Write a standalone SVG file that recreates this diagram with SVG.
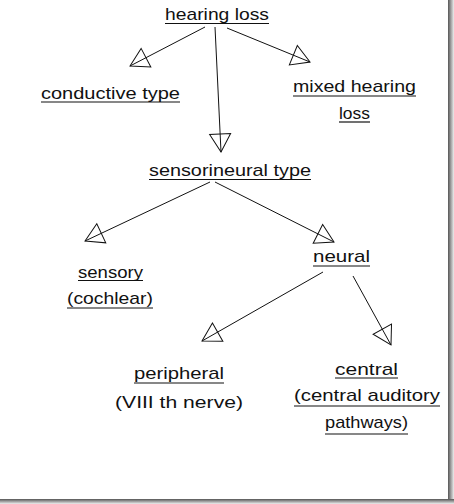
<svg xmlns="http://www.w3.org/2000/svg" width="454" height="504" viewBox="0 0 454 504">
<defs>
<style>
.t{font-family:"Liberation Sans","DejaVu Sans",sans-serif;font-size:17px;fill:#111}
.u{stroke:#111;stroke-width:1.2}
.c{stroke:#111;stroke-width:1;fill:none}
</style>
<marker id="ah" viewBox="-20 -12 22 24" refX="0" refY="0" markerWidth="22" markerHeight="24" markerUnits="userSpaceOnUse" orient="auto">
<path d="M0,0 L-18,-10.5 L-18,10.5 Z" fill="none" stroke="#111" stroke-width="1"/>
</marker>
<linearGradient id="sr" x1="0" y1="0" x2="1" y2="0"><stop offset="0" stop-color="#555"/><stop offset="1" stop-color="#eee"/></linearGradient>
<linearGradient id="sb" x1="0" y1="0" x2="0" y2="1"><stop offset="0" stop-color="#555"/><stop offset="1" stop-color="#eee"/></linearGradient>
</defs>
<rect width="454" height="504" fill="#fff"/>
<rect x="448" y="0" width="6" height="504" fill="url(#sr)"/>
<rect x="0" y="499" width="454" height="5" fill="url(#sb)"/>

<g id="connectors">
<line class="c" x1="205" y1="27" x2="130" y2="66" marker-end="url(#ah)"/>
<line class="c" x1="227" y1="28" x2="310" y2="62" marker-end="url(#ah)"/>
<line class="c" x1="215" y1="27" x2="221" y2="152" marker-end="url(#ah)"/>
<line class="c" x1="210" y1="182" x2="85" y2="241" marker-end="url(#ah)"/>
<line class="c" x1="215" y1="182" x2="334" y2="242" marker-end="url(#ah)"/>
<line class="c" x1="323" y1="272" x2="202" y2="341" marker-end="url(#ah)"/>
<line class="c" x1="353" y1="276" x2="391" y2="345" marker-end="url(#ah)"/>
</g>

<g id="hearing-loss">
<text class="t" x="165" y="20" textLength="104" lengthAdjust="spacingAndGlyphs">hearing loss</text>
<line class="u" x1="165" y1="23.5" x2="269" y2="23.5"/>
</g>
<g id="conductive-type">
<text class="t" x="41" y="99" textLength="139" lengthAdjust="spacingAndGlyphs">conductive type</text>
<line class="u" x1="41" y1="102" x2="180" y2="102"/>
</g>
<g id="mixed-hearing-loss">
<text class="t" x="293" y="92" textLength="123" lengthAdjust="spacingAndGlyphs">mixed hearing</text>
<line class="u" x1="293" y1="96" x2="416" y2="96"/>
<text class="t" x="339" y="119" textLength="31" lengthAdjust="spacingAndGlyphs">loss</text>
<line class="u" x1="339" y1="122" x2="370" y2="122"/>
</g>
<g id="sensorineural-type">
<text class="t" x="149" y="176" textLength="162" lengthAdjust="spacingAndGlyphs">sensorineural type</text>
<line class="u" x1="149" y1="179.5" x2="311" y2="179.5"/>
</g>
<g id="sensory">
<text class="t" x="78" y="278" textLength="65" lengthAdjust="spacingAndGlyphs">sensory</text>
<line class="u" x1="78" y1="280.5" x2="143" y2="280.5"/>
<text class="t" x="67" y="304" textLength="86" lengthAdjust="spacingAndGlyphs">(cochlear)</text>
<line class="u" x1="67" y1="308" x2="153" y2="308"/>
</g>
<g id="neural">
<text class="t" x="313" y="262" textLength="57" lengthAdjust="spacingAndGlyphs">neural</text>
<line class="u" x1="313" y1="266" x2="370" y2="266"/>
</g>
<g id="peripheral">
<text class="t" x="134" y="379" textLength="90" lengthAdjust="spacingAndGlyphs">peripheral</text>
<line class="u" x1="134" y1="383" x2="224" y2="383"/>
<text class="t" x="115" y="408" textLength="128" lengthAdjust="spacingAndGlyphs">(VIII th nerve)</text>
</g>
<g id="central">
<text class="t" x="335" y="375" textLength="63" lengthAdjust="spacingAndGlyphs">central</text>
<line class="u" x1="335" y1="378" x2="398" y2="378"/>
<text class="t" x="294" y="401" textLength="146" lengthAdjust="spacingAndGlyphs">(central auditory</text>
<line class="u" x1="294" y1="406" x2="440" y2="406"/>
<text class="t" x="325" y="428" textLength="83" lengthAdjust="spacingAndGlyphs">pathways)</text>
<line class="u" x1="325" y1="434" x2="408" y2="434"/>
</g>
</svg>
